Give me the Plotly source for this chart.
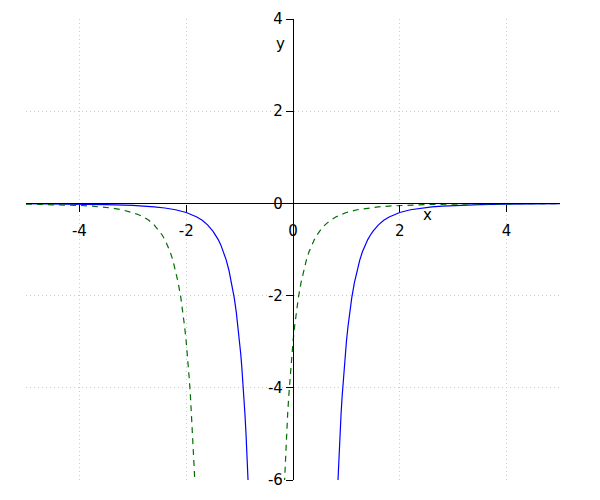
import plotly.graph_objects as go

# Blue solid curve (symmetric about x=0)
blue_x_pos = [0.83, 0.84, 0.85, 0.86, 0.88, 0.90, 0.92, 0.94, 0.96, 0.98, 1.00, 1.03, 1.06,
              1.10, 1.15, 1.20, 1.25, 1.30, 1.35, 1.40, 1.45, 1.50, 1.60, 1.70, 1.80, 1.90,
              2.00, 2.20, 2.40, 2.60, 2.80, 3.00, 3.50, 4.00, 4.50, 5.00]
blue_y_pos = [-6.32, -6.03, -5.75, -5.48, -5.00, -4.57, -4.19, -3.84, -3.53, -3.25, -3.00,
              -2.67, -2.38, -2.05, -1.72, -1.45, -1.23, -1.05, -0.905, -0.785, -0.685, -0.60,
              -0.465, -0.367, -0.294, -0.240, -0.198, -0.138, -0.100, -0.075, -0.057, -0.044,
              -0.025, -0.015, -0.009, -0.006]

# Green dashed curve, left branch and right branch
green_left_x = [-5.0, -4.5, -4.0, -3.8, -3.6, -3.4, -3.2, -3.0, -2.9, -2.8, -2.7, -2.6, -2.5,
                -2.45, -2.4, -2.35, -2.3, -2.25, -2.2, -2.15, -2.1, -2.06, -2.03, -2.0, -1.98,
                -1.96, -1.94, -1.92, -1.9, -1.88, -1.86, -1.85, -1.84, -1.83]
green_left_y = [-0.015, -0.025, -0.044, -0.057, -0.075, -0.100, -0.138, -0.198, -0.240,
                -0.294, -0.367, -0.465, -0.60, -0.685, -0.785, -0.905, -1.05, -1.23, -1.45,
                -1.72, -2.05, -2.38, -2.67, -3.0, -3.25, -3.53, -3.84, -4.19, -4.57, -5.0,
                -5.48, -5.75, -6.03, -6.32]
green_right_x = [-0.17, -0.16, -0.15, -0.14, -0.12, -0.10, -0.08, -0.06, -0.04, -0.02, 0.0,
                 0.03, 0.06, 0.10, 0.15, 0.20, 0.25, 0.30, 0.35, 0.40, 0.45, 0.50, 0.60, 0.70,
                 0.80, 0.90, 1.00, 1.20, 1.40, 1.60, 1.80, 2.00, 2.50, 3.00, 3.50, 4.00, 5.00]
green_right_y = [-6.32, -6.03, -5.75, -5.48, -5.0, -4.57, -4.19, -3.84, -3.53, -3.25, -3.0,
                 -2.67, -2.38, -2.05, -1.72, -1.45, -1.23, -1.05, -0.905, -0.785, -0.685,
                 -0.60, -0.465, -0.367, -0.294, -0.240, -0.198, -0.138, -0.100, -0.075,
                 -0.057, -0.044, -0.025, -0.015, -0.009, -0.006, -0.003]

x_ticks = [-4, -2, 0, 2, 4]
y_ticks = [-6, -4, -2, 0, 2, 4]

blue_x = [-v for v in reversed(blue_x_pos)] + [None] + blue_x_pos
blue_y = list(reversed(blue_y_pos)) + [None] + blue_y_pos
green_x = green_left_x + [None] + green_right_x
green_y = green_left_y + [None] + green_right_y

fig = go.Figure()
fig.add_trace(go.Scatter(x=blue_x, y=blue_y, mode="lines",
                         line=dict(color="#0000ff", width=1.2),
                         connectgaps=False, showlegend=False, hoverinfo="skip"))
fig.add_trace(go.Scatter(x=green_x, y=green_y, mode="lines",
                         line=dict(color="#006e00", width=1.2, dash="6px,5px"),
                         connectgaps=False, showlegend=False, hoverinfo="skip"))

axis_font = dict(family="DejaVu Sans", size=15, color="black")
common = dict(showline=True, linecolor="black", linewidth=1.2, ticks="outside", ticklen=7,
              tickcolor="black", tickfont=axis_font, showgrid=True, gridcolor="#cccccc",
              griddash="1px,3px", gridwidth=1, zeroline=False, automargin=False)
fig.update_layout(
    width=600, height=500,
    margin=dict(l=25.5, r=39.5, t=19, b=20, pad=0),
    plot_bgcolor="white", paper_bgcolor="white",
    xaxis=dict(range=[-5, 5], tickvals=x_ticks, ticktext=[str(t) for t in x_ticks],
               anchor="free", position=0.6, ticklabelstandoff=6, **common),
    yaxis=dict(range=[-6, 4], tickvals=y_ticks, ticktext=[str(t) for t in y_ticks],
               anchor="free", position=0.5, **common),
    annotations=[
        dict(text="x", x=2.52, y=-0.26, xref="x", yref="y", showarrow=False,
             font=axis_font),
        dict(text="y", x=-0.24, y=3.45, xref="x", yref="y", showarrow=False,
             font=axis_font),
    ],
)

fig.write_html("out.html", config={"displayModeBar": False},
               post_script="document.body.style.margin='0px';")
